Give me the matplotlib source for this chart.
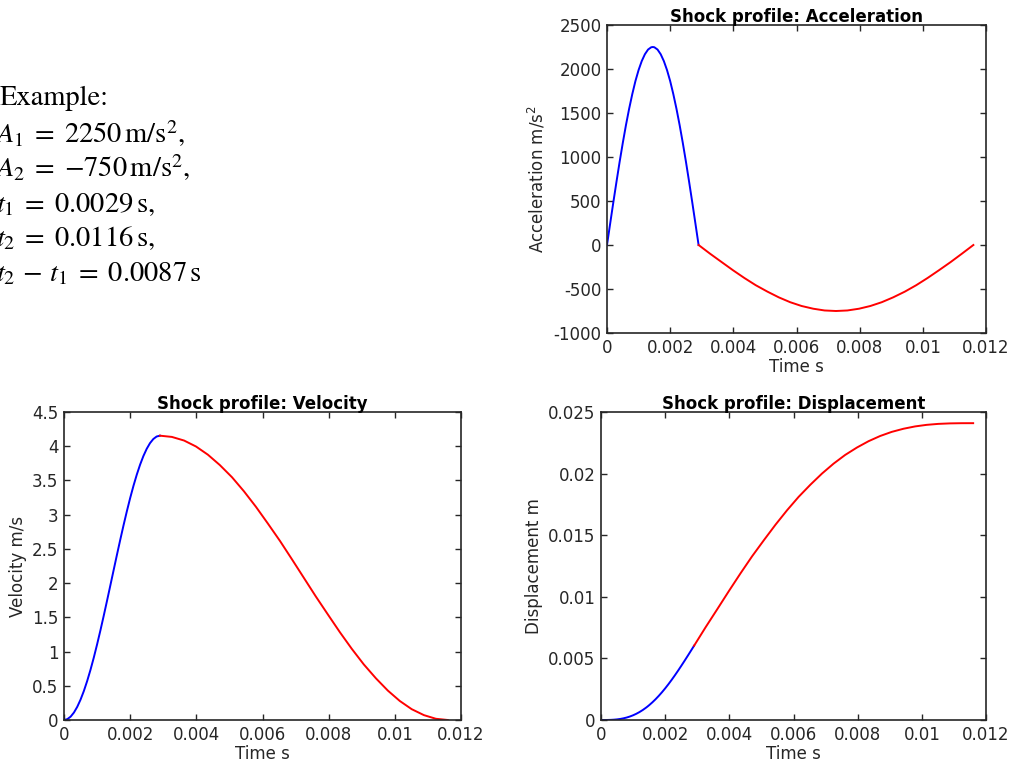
import numpy as np
import matplotlib.pyplot as plt

# shock profile, values
# first pulse (blue), 0 .. t1
t_up = [0, 0.0001, 0.0002, 0.0003, 0.0004, 0.0005, 0.0006, 0.0007, 0.0008,
        0.0009, 0.0010, 0.0011, 0.0012, 0.0013, 0.0014, 0.00145, 0.0015,
        0.0016, 0.0017, 0.0018, 0.0019, 0.0020, 0.0021, 0.0022, 0.0023,
        0.0024, 0.0025, 0.0026, 0.0027, 0.0028, 0.0029]
acc_up = [0, 243, 484, 718, 945, 1160, 1362, 1547, 1714, 1863, 1988, 2090,
          2168, 2221, 2247, 2250, 2247, 2221, 2168, 2090, 1988, 1863, 1714,
          1547, 1362, 1160, 945, 718, 484, 243, 0]
vel_up = [0, 0.0122, 0.0486, 0.1087, 0.1920, 0.2973, 0.4235, 0.5691, 0.7322,
          0.9109, 1.1041, 1.3082, 1.5214, 1.7410, 1.9646, 2.0770, 2.1894,
          2.4130, 2.6326, 2.8458, 3.0499, 3.2431, 3.4218, 3.5849, 3.7305,
          3.8567, 3.9620, 4.0453, 4.1054, 4.1418, 4.154]
disp_up = [0, 0.0000004, 0.0000032, 0.0000109, 0.0000258, 0.0000500,
           0.0000859, 0.0001354, 0.0002003, 0.0002824, 0.0003831, 0.0005036,
           0.0006450, 0.0008081, 0.0009933, 0.0010940, 0.0012011, 0.0014312,
           0.0016835, 0.0019575, 0.0022524, 0.0025671, 0.0029004, 0.0032509,
           0.0036168, 0.0039963, 0.0043875, 0.0047880, 0.0051957, 0.0056083,
           0.0060233]

# second pulse (red), t1 .. t2
t_down = [0.0029, 0.00326, 0.00363, 0.00399, 0.00435, 0.00471, 0.00508,
          0.00544, 0.0058, 0.00616, 0.00653, 0.00689, 0.00725, 0.00761,
          0.00798, 0.00834, 0.0087, 0.00906, 0.00943, 0.00979, 0.01015,
          0.01051, 0.01088, 0.01124, 0.0116]
acc_down = [0, -98, -194, -287, -375, -457, -530, -595, -650, -693, -724,
            -744, -750, -744, -724, -693, -650, -595, -530, -457, -375, -287,
            -194, -98, 0]
vel_down = [4.154, 4.136, 4.083, 3.996, 3.876, 3.725, 3.546, 3.341, 3.116,
            2.872, 2.615, 2.348, 2.077, 1.806, 1.539, 1.282, 1.039, 0.813,
            0.608, 0.429, 0.278, 0.158, 0.071, 0.018, 0]
disp_down = [0.006023, 0.007527, 0.009018, 0.010483, 0.011911, 0.013290,
             0.014607, 0.015856, 0.017027, 0.018113, 0.019108, 0.020008,
             0.020810, 0.021514, 0.022120, 0.022631, 0.023051, 0.023385,
             0.023642, 0.023830, 0.023957, 0.024035, 0.024076, 0.024091,
             0.024093]

xticks = [0, 0.002, 0.004, 0.006, 0.008, 0.01, 0.012]
xlabels = ['0', '0.002', '0.004', '0.006', '0.008', '0.01', '0.012']

notes = ['Example:',
         r'$A_1\;=\;2250\,\mathrm{m/s}^2,$',
         r'$A_2\;=\;{-}750\,\mathrm{m/s}^2,$',
         r'$t_1\;=\;0.0029\,\mathrm{s},$',
         r'$t_2\;=\;0.0116\,\mathrm{s},$',
         r'$t_2\,-\,t_1\;=\;0.0087\,\mathrm{s}$']

gray = '#262626'
plt.rcParams['font.family'] = 'DejaVu Sans'
plt.rcParams['font.size'] = 12
plt.rcParams['axes.unicode_minus'] = False

fig = plt.figure(figsize=(10.11, 7.70), dpi=100)
W, H = 1011, 770


def make_ax(left, top, right, bottom):
    ax = fig.add_axes([left / W, 1 - bottom / H, (right - left) / W, (bottom - top) / H])
    ax.tick_params(direction='in', top=True, right=True, length=4,
                   width=1, colors=gray, labelsize=12, pad=4)
    for s in ax.spines.values():
        s.set_color(gray)
        s.set_linewidth(1.2)
    ax.set_xlim(0, 0.012)
    ax.set_xticks(xticks)
    ax.set_xticklabels(xlabels)
    ax.set_xlabel('Time s', color=gray, fontsize=12, labelpad=1)
    return ax


# acceleration
ax1 = make_ax(607, 25, 986, 333)
ax1.plot(t_up, acc_up, color='blue', lw=1.4)
ax1.plot(t_down, acc_down, color='red', lw=1.4)
ax1.set_ylim(-1000, 2500)
ax1.set_yticks(np.arange(-1000, 2501, 500))
ax1.set_ylabel(r'Acceleration m/s$^2$', color=gray, fontsize=12)
ax1.set_title('Shock profile: Acceleration', fontweight='bold', fontsize=12, pad=2)

# velocity
ax2 = make_ax(64, 412, 461, 720)
ax2.plot(t_up, vel_up, color='blue', lw=1.4)
ax2.plot(t_down, vel_down, color='red', lw=1.4)
ax2.set_ylim(0, 4.5)
ax2.set_yticks(np.arange(0, 4.51, 0.5))
ax2.set_yticklabels(['0', '0.5', '1', '1.5', '2', '2.5', '3', '3.5', '4', '4.5'])
ax2.set_ylabel('Velocity m/s', color=gray, fontsize=12)
ax2.set_title('Shock profile: Velocity', fontweight='bold', fontsize=12, pad=2)

# displacement
ax3 = make_ax(601, 412, 986, 720)
ax3.plot(t_up, disp_up, color='blue', lw=1.4)
ax3.plot(t_down, disp_down, color='red', lw=1.4)
ax3.set_ylim(0, 0.025)
ax3.set_yticks([0, 0.005, 0.01, 0.015, 0.02, 0.025])
ax3.set_yticklabels(['0', '0.005', '0.01', '0.015', '0.02', '0.025'])
ax3.set_ylabel('Displacement m', color=gray, fontsize=12)
ax3.set_title('Shock profile: Displacement', fontweight='bold', fontsize=12, pad=2)

# parameter notes, top left (cut at the left edge like the original)
ys = [105, 143, 177, 212, 246, 281]
xs = [0, -5, -5, -4, -4, -4]
for txt, x, y in zip(notes, xs, ys):
    fig.text(x / W, 1 - y / H, txt, fontsize=20.5, family='STIXGeneral',
             math_fontfamily='stix', va='baseline', ha='left', color='black')

fig.savefig('out.png', dpi=100)
